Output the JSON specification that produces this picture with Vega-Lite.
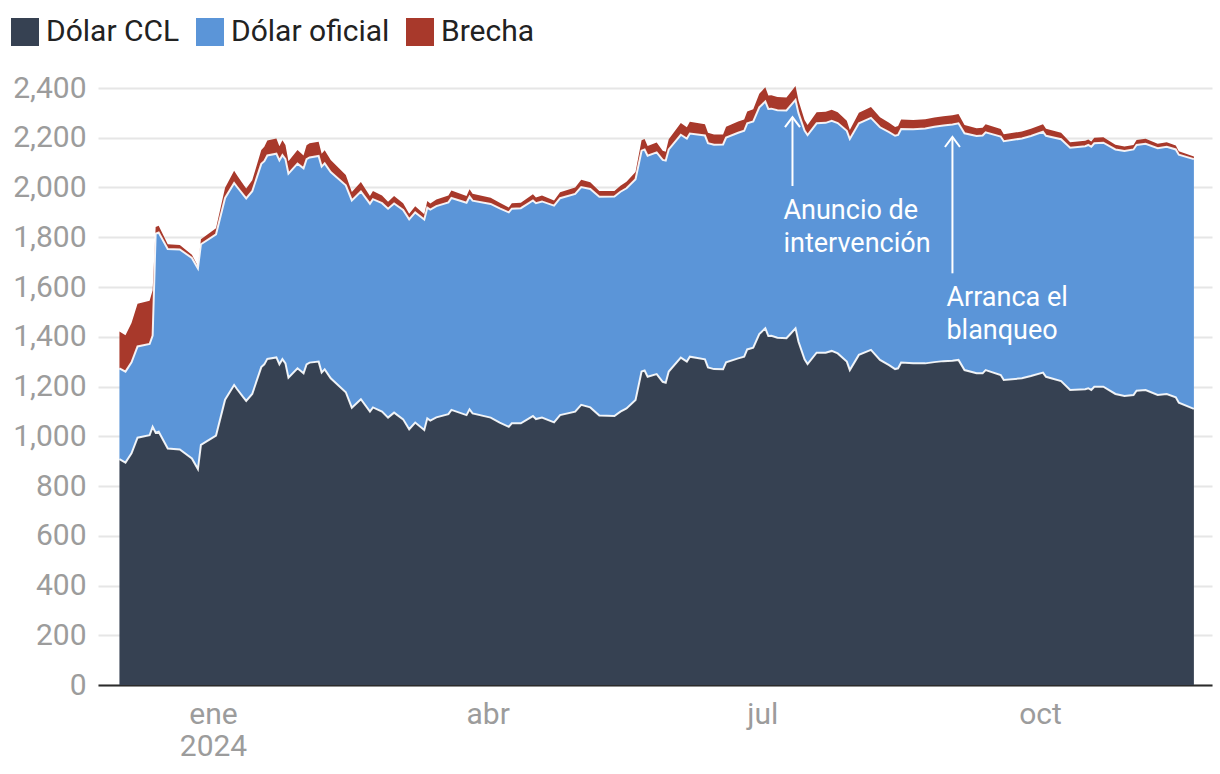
{
  "$schema": "https://vega.github.io/schema/vega-lite/v6.json",
  "width": 1114,
  "height": 597,
  "autosize": {"type": "none"},
  "padding": {"left": 98, "top": 88, "right": 8, "bottom": 89},
  "background": "white",
  "config": {
    "view": {"stroke": null},
    "font": "Roboto",
    "axis": {"labelFont": "Roboto", "labelFontSize": 30, "labelColor": "#9c9c9c", "title": null, "ticks": false}
  },
  "datasets": {
    "tipos": [
      {"clave": "ccl", "nombre": "Dólar CCL", "capa": 1},
      {"clave": "oficial", "nombre": "Dólar oficial", "capa": 2},
      {"clave": "brecha", "nombre": "Brecha", "capa": 3}
    ],
    "notas": [
      {"fecha": "2024-07-08", "valor": 1873, "texto": "Anuncio de\nintervención"},
      {"fecha": "2024-08-31", "valor": 1524, "texto": "Arranca el\nblanqueo"}
    ],
    "flechas": [
      {"fecha": "2024-07-11", "tope": 2283, "base": 2006},
      {"fecha": "2024-09-02", "tope": 2203, "base": 1655}
    ],
    "cotizaciones": [
      {"fecha": "2023-12-01", "ccl": 908, "oficial": 365, "brecha": 148},
      {"fecha": "2023-12-03", "ccl": 894, "oficial": 366, "brecha": 146},
      {"fecha": "2023-12-05", "ccl": 931, "oficial": 366, "brecha": 158},
      {"fecha": "2023-12-07", "ccl": 994, "oficial": 367, "brecha": 172},
      {"fecha": "2023-12-11", "ccl": 1004, "oficial": 367, "brecha": 174},
      {"fecha": "2023-12-12", "ccl": 1038, "oficial": 367, "brecha": 182},
      {"fecha": "2023-12-13", "ccl": 1014, "oficial": 800, "brecha": 27},
      {"fecha": "2023-12-14", "ccl": 1018, "oficial": 801, "brecha": 27},
      {"fecha": "2023-12-17", "ccl": 951, "oficial": 802, "brecha": 19},
      {"fecha": "2023-12-21", "ccl": 947, "oficial": 804, "brecha": 18},
      {"fecha": "2023-12-25", "ccl": 911, "oficial": 806, "brecha": 13},
      {"fecha": "2023-12-27", "ccl": 868, "oficial": 807, "brecha": 8},
      {"fecha": "2023-12-28", "ccl": 965, "oficial": 807, "brecha": 20},
      {"fecha": "2024-01-02", "ccl": 1003, "oficial": 809, "brecha": 24},
      {"fecha": "2024-01-05", "ccl": 1147, "oficial": 811, "brecha": 41},
      {"fecha": "2024-01-08", "ccl": 1206, "oficial": 812, "brecha": 49},
      {"fecha": "2024-01-09", "ccl": 1189, "oficial": 813, "brecha": 46},
      {"fecha": "2024-01-11", "ccl": 1157, "oficial": 814, "brecha": 42},
      {"fecha": "2024-01-12", "ccl": 1142, "oficial": 814, "brecha": 40},
      {"fecha": "2024-01-14", "ccl": 1170, "oficial": 815, "brecha": 44},
      {"fecha": "2024-01-17", "ccl": 1278, "oficial": 817, "brecha": 56},
      {"fecha": "2024-01-18", "ccl": 1289, "oficial": 817, "brecha": 58},
      {"fecha": "2024-01-19", "ccl": 1311, "oficial": 818, "brecha": 60},
      {"fecha": "2024-01-22", "ccl": 1317, "oficial": 819, "brecha": 61},
      {"fecha": "2024-01-23", "ccl": 1289, "oficial": 820, "brecha": 57},
      {"fecha": "2024-01-24", "ccl": 1310, "oficial": 820, "brecha": 60},
      {"fecha": "2024-01-25", "ccl": 1293, "oficial": 821, "brecha": 57},
      {"fecha": "2024-01-26", "ccl": 1235, "oficial": 821, "brecha": 50},
      {"fecha": "2024-01-29", "ccl": 1273, "oficial": 823, "brecha": 55},
      {"fecha": "2024-01-31", "ccl": 1253, "oficial": 824, "brecha": 52},
      {"fecha": "2024-02-01", "ccl": 1289, "oficial": 825, "brecha": 56},
      {"fecha": "2024-02-02", "ccl": 1296, "oficial": 825, "brecha": 57},
      {"fecha": "2024-02-05", "ccl": 1300, "oficial": 827, "brecha": 57},
      {"fecha": "2024-02-06", "ccl": 1256, "oficial": 828, "brecha": 52},
      {"fecha": "2024-02-07", "ccl": 1269, "oficial": 828, "brecha": 53},
      {"fecha": "2024-02-09", "ccl": 1233, "oficial": 829, "brecha": 49},
      {"fecha": "2024-02-14", "ccl": 1177, "oficial": 832, "brecha": 41},
      {"fecha": "2024-02-16", "ccl": 1115, "oficial": 833, "brecha": 34},
      {"fecha": "2024-02-19", "ccl": 1149, "oficial": 835, "brecha": 38},
      {"fecha": "2024-02-22", "ccl": 1099, "oficial": 836, "brecha": 31},
      {"fecha": "2024-02-23", "ccl": 1116, "oficial": 837, "brecha": 33},
      {"fecha": "2024-02-26", "ccl": 1099, "oficial": 838, "brecha": 31},
      {"fecha": "2024-02-28", "ccl": 1075, "oficial": 840, "brecha": 28},
      {"fecha": "2024-03-01", "ccl": 1095, "oficial": 841, "brecha": 30},
      {"fecha": "2024-03-04", "ccl": 1068, "oficial": 842, "brecha": 27},
      {"fecha": "2024-03-06", "ccl": 1028, "oficial": 844, "brecha": 22},
      {"fecha": "2024-03-08", "ccl": 1055, "oficial": 845, "brecha": 25},
      {"fecha": "2024-03-11", "ccl": 1025, "oficial": 846, "brecha": 21},
      {"fecha": "2024-03-12", "ccl": 1072, "oficial": 847, "brecha": 27},
      {"fecha": "2024-03-13", "ccl": 1063, "oficial": 848, "brecha": 25},
      {"fecha": "2024-03-15", "ccl": 1076, "oficial": 849, "brecha": 27},
      {"fecha": "2024-03-19", "ccl": 1089, "oficial": 851, "brecha": 28},
      {"fecha": "2024-03-20", "ccl": 1106, "oficial": 852, "brecha": 30},
      {"fecha": "2024-03-25", "ccl": 1085, "oficial": 854, "brecha": 27},
      {"fecha": "2024-03-26", "ccl": 1108, "oficial": 855, "brecha": 30},
      {"fecha": "2024-03-27", "ccl": 1092, "oficial": 855, "brecha": 28},
      {"fecha": "2024-04-02", "ccl": 1075, "oficial": 859, "brecha": 25},
      {"fecha": "2024-04-05", "ccl": 1055, "oficial": 861, "brecha": 23},
      {"fecha": "2024-04-08", "ccl": 1038, "oficial": 862, "brecha": 20},
      {"fecha": "2024-04-09", "ccl": 1052, "oficial": 863, "brecha": 22},
      {"fecha": "2024-04-12", "ccl": 1052, "oficial": 865, "brecha": 22},
      {"fecha": "2024-04-16", "ccl": 1081, "oficial": 867, "brecha": 25},
      {"fecha": "2024-04-17", "ccl": 1069, "oficial": 868, "brecha": 23},
      {"fecha": "2024-04-19", "ccl": 1075, "oficial": 869, "brecha": 24},
      {"fecha": "2024-04-23", "ccl": 1056, "oficial": 871, "brecha": 21},
      {"fecha": "2024-04-25", "ccl": 1085, "oficial": 872, "brecha": 24},
      {"fecha": "2024-04-30", "ccl": 1099, "oficial": 875, "brecha": 26},
      {"fecha": "2024-05-02", "ccl": 1126, "oficial": 876, "brecha": 29},
      {"fecha": "2024-05-05", "ccl": 1116, "oficial": 878, "brecha": 27},
      {"fecha": "2024-05-08", "ccl": 1083, "oficial": 880, "brecha": 23},
      {"fecha": "2024-05-13", "ccl": 1081, "oficial": 883, "brecha": 22},
      {"fecha": "2024-05-15", "ccl": 1099, "oficial": 884, "brecha": 24},
      {"fecha": "2024-05-17", "ccl": 1112, "oficial": 885, "brecha": 26},
      {"fecha": "2024-05-20", "ccl": 1146, "oficial": 887, "brecha": 29},
      {"fecha": "2024-05-22", "ccl": 1260, "oficial": 888, "brecha": 42},
      {"fecha": "2024-05-23", "ccl": 1264, "oficial": 889, "brecha": 42},
      {"fecha": "2024-05-24", "ccl": 1239, "oficial": 889, "brecha": 39},
      {"fecha": "2024-05-27", "ccl": 1250, "oficial": 891, "brecha": 40},
      {"fecha": "2024-05-29", "ccl": 1219, "oficial": 892, "brecha": 37},
      {"fecha": "2024-05-30", "ccl": 1215, "oficial": 893, "brecha": 36},
      {"fecha": "2024-05-31", "ccl": 1260, "oficial": 893, "brecha": 41},
      {"fecha": "2024-06-04", "ccl": 1316, "oficial": 896, "brecha": 47},
      {"fecha": "2024-06-06", "ccl": 1300, "oficial": 897, "brecha": 45},
      {"fecha": "2024-06-07", "ccl": 1320, "oficial": 897, "brecha": 47},
      {"fecha": "2024-06-12", "ccl": 1309, "oficial": 900, "brecha": 45},
      {"fecha": "2024-06-13", "ccl": 1277, "oficial": 901, "brecha": 42},
      {"fecha": "2024-06-15", "ccl": 1270, "oficial": 902, "brecha": 41},
      {"fecha": "2024-06-18", "ccl": 1269, "oficial": 904, "brecha": 40},
      {"fecha": "2024-06-19", "ccl": 1297, "oficial": 904, "brecha": 43},
      {"fecha": "2024-06-23", "ccl": 1313, "oficial": 907, "brecha": 45},
      {"fecha": "2024-06-25", "ccl": 1320, "oficial": 908, "brecha": 45},
      {"fecha": "2024-06-26", "ccl": 1349, "oficial": 909, "brecha": 48},
      {"fecha": "2024-06-28", "ccl": 1356, "oficial": 910, "brecha": 49},
      {"fecha": "2024-06-30", "ccl": 1411, "oficial": 911, "brecha": 55},
      {"fecha": "2024-07-02", "ccl": 1434, "oficial": 912, "brecha": 57},
      {"fecha": "2024-07-03", "ccl": 1403, "oficial": 913, "brecha": 54},
      {"fecha": "2024-07-04", "ccl": 1404, "oficial": 913, "brecha": 54},
      {"fecha": "2024-07-06", "ccl": 1396, "oficial": 915, "brecha": 53},
      {"fecha": "2024-07-09", "ccl": 1394, "oficial": 916, "brecha": 52},
      {"fecha": "2024-07-10", "ccl": 1407, "oficial": 917, "brecha": 53},
      {"fecha": "2024-07-12", "ccl": 1434, "oficial": 918, "brecha": 56},
      {"fecha": "2024-07-13", "ccl": 1380, "oficial": 919, "brecha": 50},
      {"fecha": "2024-07-15", "ccl": 1309, "oficial": 920, "brecha": 42},
      {"fecha": "2024-07-16", "ccl": 1290, "oficial": 921, "brecha": 40},
      {"fecha": "2024-07-19", "ccl": 1336, "oficial": 922, "brecha": 45},
      {"fecha": "2024-07-22", "ccl": 1336, "oficial": 924, "brecha": 45},
      {"fecha": "2024-07-24", "ccl": 1343, "oficial": 925, "brecha": 45},
      {"fecha": "2024-07-26", "ccl": 1333, "oficial": 926, "brecha": 44},
      {"fecha": "2024-07-29", "ccl": 1300, "oficial": 928, "brecha": 40},
      {"fecha": "2024-07-30", "ccl": 1266, "oficial": 929, "brecha": 36},
      {"fecha": "2024-08-02", "ccl": 1327, "oficial": 931, "brecha": 43},
      {"fecha": "2024-08-06", "ccl": 1347, "oficial": 933, "brecha": 44},
      {"fecha": "2024-08-09", "ccl": 1307, "oficial": 935, "brecha": 40},
      {"fecha": "2024-08-12", "ccl": 1286, "oficial": 937, "brecha": 37},
      {"fecha": "2024-08-14", "ccl": 1270, "oficial": 938, "brecha": 35},
      {"fecha": "2024-08-15", "ccl": 1273, "oficial": 938, "brecha": 36},
      {"fecha": "2024-08-16", "ccl": 1296, "oficial": 939, "brecha": 38},
      {"fecha": "2024-08-20", "ccl": 1293, "oficial": 941, "brecha": 37},
      {"fecha": "2024-08-24", "ccl": 1293, "oficial": 944, "brecha": 37},
      {"fecha": "2024-08-27", "ccl": 1298, "oficial": 946, "brecha": 37},
      {"fecha": "2024-08-30", "ccl": 1302, "oficial": 947, "brecha": 37},
      {"fecha": "2024-09-02", "ccl": 1304, "oficial": 949, "brecha": 37},
      {"fecha": "2024-09-04", "ccl": 1307, "oficial": 951, "brecha": 37},
      {"fecha": "2024-09-06", "ccl": 1266, "oficial": 952, "brecha": 33},
      {"fecha": "2024-09-10", "ccl": 1253, "oficial": 954, "brecha": 31},
      {"fecha": "2024-09-12", "ccl": 1253, "oficial": 956, "brecha": 31},
      {"fecha": "2024-09-13", "ccl": 1266, "oficial": 956, "brecha": 32},
      {"fecha": "2024-09-18", "ccl": 1246, "oficial": 959, "brecha": 30},
      {"fecha": "2024-09-19", "ccl": 1226, "oficial": 960, "brecha": 28},
      {"fecha": "2024-09-25", "ccl": 1233, "oficial": 964, "brecha": 28},
      {"fecha": "2024-09-28", "ccl": 1242, "oficial": 965, "brecha": 29},
      {"fecha": "2024-10-02", "ccl": 1256, "oficial": 968, "brecha": 30},
      {"fecha": "2024-10-03", "ccl": 1239, "oficial": 969, "brecha": 28},
      {"fecha": "2024-10-08", "ccl": 1222, "oficial": 972, "brecha": 26},
      {"fecha": "2024-10-11", "ccl": 1186, "oficial": 974, "brecha": 22},
      {"fecha": "2024-10-16", "ccl": 1189, "oficial": 977, "brecha": 22},
      {"fecha": "2024-10-17", "ccl": 1193, "oficial": 978, "brecha": 22},
      {"fecha": "2024-10-18", "ccl": 1186, "oficial": 978, "brecha": 21},
      {"fecha": "2024-10-19", "ccl": 1199, "oficial": 979, "brecha": 22},
      {"fecha": "2024-10-22", "ccl": 1199, "oficial": 981, "brecha": 22},
      {"fecha": "2024-10-26", "ccl": 1170, "oficial": 983, "brecha": 19},
      {"fecha": "2024-10-29", "ccl": 1162, "oficial": 985, "brecha": 18},
      {"fecha": "2024-11-01", "ccl": 1166, "oficial": 987, "brecha": 18},
      {"fecha": "2024-11-02", "ccl": 1183, "oficial": 988, "brecha": 20},
      {"fecha": "2024-11-05", "ccl": 1186, "oficial": 990, "brecha": 20},
      {"fecha": "2024-11-09", "ccl": 1166, "oficial": 992, "brecha": 18},
      {"fecha": "2024-11-12", "ccl": 1170, "oficial": 994, "brecha": 18},
      {"fecha": "2024-11-15", "ccl": 1157, "oficial": 996, "brecha": 16},
      {"fecha": "2024-11-16", "ccl": 1135, "oficial": 997, "brecha": 14},
      {"fecha": "2024-11-21", "ccl": 1110, "oficial": 1004, "brecha": 11}
    ]
  },
  "layer": [
    {
      "data": {"name": "cotizaciones"},
      "transform": [
        {"fold": ["ccl", "oficial", "brecha"], "as": ["clave", "valor"]},
        {"lookup": "clave", "from": {"data": {"name": "tipos"}, "key": "clave", "fields": ["nombre", "capa"]}},
        {"stack": "valor", "groupby": ["fecha"], "sort": [{"field": "capa", "order": "ascending"}], "as": ["v0", "v1"]}
      ],
      "layer": [
        {
          "mark": {"type": "area", "interpolate": "linear"},
          "encoding": {
            "x": {
              "field": "fecha", "type": "temporal", "title": null,
              "scale": {"type": "utc", "domain": [{"year": 2023, "month": 11, "date": 23, "hours": 21, "minutes": 30, "utc": true}, {"year": 2024, "month": 11, "date": 27, "utc": true}]},
              "axis": {
                "values": [
                  {"year": 2024, "month": 1, "date": 1, "utc": true},
                  {"year": 2024, "month": 4, "date": 1, "utc": true},
                  {"year": 2024, "month": 7, "date": 1, "utc": true},
                  {"year": 2024, "month": 10, "date": 1, "utc": true}
                ],
                "labelExpr": "utcmonth(datum.value) == 0 ? ['ene', '' + utcyear(datum.value)] : (utcmonth(datum.value) == 3 ? 'abr' : (utcmonth(datum.value) == 6 ? 'jul' : 'oct'))",
                "grid": false, "domain": true, "domainColor": "#2b2b2b", "domainWidth": 2, "ticks": false,
                "labelPadding": 14, "labelLineHeight": 32, "labelFlush": false, "labelOverlap": false, "labelAlign": "center", "labelBaseline": "top"
              }
            },
            "y": {
              "field": "v1", "type": "quantitative", "title": null, "stack": null,
              "scale": {"domain": [0, 2400], "nice": false, "zero": true},
              "axis": {
                "values": [0, 200, 400, 600, 800, 1000, 1200, 1400, 1600, 1800, 2000, 2200, 2400],
                "format": ",d", "domain": false, "ticks": false, "grid": true, "gridColor": "#e6e6e6", "gridWidth": 2,
                "labelPadding": 12
              }
            },
            "y2": {"field": "v0"},
            "color": {
              "field": "nombre", "type": "nominal",
              "scale": {"domain": ["Dólar CCL", "Dólar oficial", "Brecha"], "range": ["#364152", "#5b95d8", "#a8392b"]},
              "legend": {
                "orient": "none", "legendX": -88, "legendY": -71, "direction": "horizontal", "title": null,
                "symbolType": "square", "symbolSize": 784, "symbolStrokeWidth": 0, "symbolOpacity": 1,
                "labelFont": "Roboto", "labelFontSize": 30, "labelColor": "#222222", "labelOffset": 6,
                "columnPadding": 15, "padding": 0, "labelLimit": 400
              }
            }
          }
        },
        {
          "transform": [{"filter": {"field": "clave", "oneOf": ["ccl", "oficial"]}}],
          "mark": {"type": "line", "interpolate": "linear", "strokeWidth": 2, "color": "#ffffff", "opacity": 0.9},
          "encoding": {
            "x": {"field": "fecha", "type": "temporal", "title": null, "scale": {"type": "utc", "domain": [{"year": 2023, "month": 11, "date": 23, "hours": 21, "minutes": 30, "utc": true}, {"year": 2024, "month": 11, "date": 27, "utc": true}]}},
            "y": {"field": "v1", "type": "quantitative", "title": null, "stack": null, "scale": {"domain": [0, 2400], "nice": false, "zero": true}},
            "detail": {"field": "clave"}
          }
        }
      ]
    },
    {
      "data": {"name": "flechas"},
      "layer": [
        {
          "mark": {"type": "rule", "color": "#ffffff", "strokeWidth": 2},
          "encoding": {
            "x": {"field": "fecha", "type": "temporal", "title": null, "scale": {"type": "utc", "domain": [{"year": 2023, "month": 11, "date": 23, "hours": 21, "minutes": 30, "utc": true}, {"year": 2024, "month": 11, "date": 27, "utc": true}]}},
            "y": {"field": "tope", "type": "quantitative", "title": null, "scale": {"domain": [0, 2400], "nice": false, "zero": true}},
            "y2": {"field": "base"}
          }
        },
        {
          "mark": {"type": "point", "shape": "M-0.75,1L0,0L0.75,1", "filled": false, "stroke": "#ffffff", "strokeWidth": 2, "size": 400, "opacity": 1},
          "encoding": {
            "x": {"field": "fecha", "type": "temporal", "title": null, "scale": {"type": "utc", "domain": [{"year": 2023, "month": 11, "date": 23, "hours": 21, "minutes": 30, "utc": true}, {"year": 2024, "month": 11, "date": 27, "utc": true}]}},
            "y": {"field": "tope", "type": "quantitative", "title": null, "scale": {"domain": [0, 2400], "nice": false, "zero": true}}
          }
        }
      ]
    },
    {
      "data": {"name": "notas"},
      "mark": {"type": "text", "align": "left", "baseline": "alphabetic", "font": "Roboto", "fontSize": 27, "color": "#ffffff", "lineBreak": "\n", "lineHeight": 33},
      "encoding": {
        "x": {"field": "fecha", "type": "temporal", "title": null, "scale": {"type": "utc", "domain": [{"year": 2023, "month": 11, "date": 23, "hours": 21, "minutes": 30, "utc": true}, {"year": 2024, "month": 11, "date": 27, "utc": true}]}},
        "y": {"field": "valor", "type": "quantitative", "title": null, "scale": {"domain": [0, 2400], "nice": false, "zero": true}},
        "text": {"field": "texto"}
      }
    }
  ]
}
